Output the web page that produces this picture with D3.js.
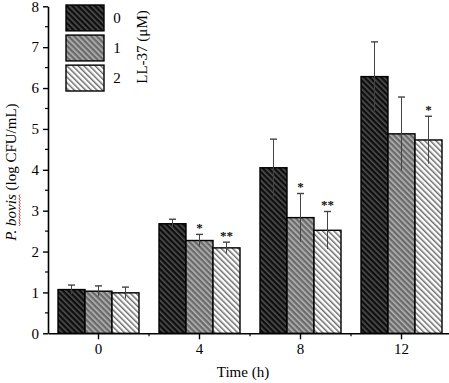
<!DOCTYPE html>
<html><head><meta charset="utf-8">
<script src="https://cdn.jsdelivr.net/npm/d3@7"></script>
<style>html,body{margin:0;padding:0;background:#fff;}svg{display:block;}</style>
</head><body>
<svg id="c" width="449" height="383"></svg>
<script>
const times = ["0","4","8","12"];
const doses = ["0","1","2"];
const mean0 = [1.07, 2.68, 4.05, 6.28];
const mean1 = [1.03, 2.27, 2.83, 4.88];
const mean2 = [0.99, 2.09, 2.52, 4.73];
const err0 = [0.11, 0.11, 0.70, 0.85];
const err1 = [0.13, 0.15, 0.59, 0.90];
const err2 = [0.14, 0.14, 0.46, 0.58];
const sig0 = ["", "", "", ""];
const sig1 = ["", "*", "*", ""];
const sig2 = ["", "**", "**", "*"];
const yTicks = [0,1,2,3,4,5,6,7,8];
const xLabel = "Time (h)";
const legendTitle = "LL-37 (\u03bcM)";

const means = [mean0, mean1, mean2];
const errs = [err0, err1, err2];
const sigs = [sig0, sig1, sig2];

const svg = d3.select("#c");
const font = "'Liberation Serif','Times New Roman',serif";

const x = d3.scaleBand().domain(times).range([48, 452]).padding(0);
const xs = d3.scaleBand().domain(doses).range([10, 91]).padding(0);
const y = d3.scaleLinear().domain([0, 8]).range([333.3, 6.3]);

// patterns
const defs = svg.append("defs");
const pats = [
  {id:"p0", bg:"#0e0e0e", fg:"#505050", w:1.6},
  {id:"p1", bg:"#6a6a6a", fg:"#b4b4b4", w:1.6},
  {id:"p2", bg:"#ffffff", fg:"#6e6e6e", w:1.5}
];
pats.forEach(p => {
  const pt = defs.append("pattern").attr("id", p.id).attr("patternUnits","userSpaceOnUse")
    .attr("width", 4).attr("height", 4).attr("patternTransform","rotate(-45)");
  pt.append("rect").attr("width",4).attr("height",4).attr("fill",p.bg);
  pt.append("rect").attr("x",0).attr("y",0).attr("width",p.w).attr("height",4).attr("fill",p.fg);
});

// bars
doses.forEach((d, si) => {
  const g = svg.append("g");
  times.forEach((t, ti) => {
    const v = means[si][ti];
    const bx = x(t) + xs(d);
    g.append("rect").attr("x", bx).attr("y", y(v))
      .attr("width", xs.bandwidth()).attr("height", y(0) - y(v))
      .attr("fill", `url(#${pats[si].id})`).attr("stroke", "#000").attr("stroke-width", 1.4);
  });
});

// error bars
doses.forEach((d, si) => {
  times.forEach((t, ti) => {
    const v = means[si][ti], e = errs[si][ti];
    const cx = x(t) + xs(d) + xs.bandwidth()/2;
    const g = svg.append("g").attr("stroke", "#444").attr("stroke-width", 1);
    g.append("line").attr("x1", cx).attr("x2", cx).attr("y1", y(v+e)).attr("y2", y(v-e));
    g.append("line").attr("x1", cx-3.5).attr("x2", cx+3.5).attr("y1", y(v+e)).attr("y2", y(v+e)).attr("stroke-width",1.4);
    if (sigs[si][ti]) {
      svg.append("text").attr("x", cx).attr("y", y(v+e) - 2.5)
        .attr("text-anchor","middle").attr("font-family", font).attr("font-weight","bold")
        .attr("font-size", 13).attr("fill","#111").text(sigs[si][ti]);
    }
  });
});

// y axis
const yAxis = d3.axisLeft(y).tickValues(yTicks).tickSize(5).tickSizeOuter(0).tickPadding(4).tickFormat(d3.format("d"));
const ya = svg.append("g").attr("transform","translate(48,0)").call(yAxis);
ya.select(".domain").attr("stroke-width", 1.6);
ya.selectAll(".tick line").attr("stroke-width", 1.4);
ya.selectAll("text").attr("font-family", font).attr("font-size", 15).attr("fill","#000");
const yMinor = d3.range(0.5, 8, 1);
ya.selectAll(".minor").data(yMinor).enter().append("line").attr("class","minor")
  .attr("x1", 0).attr("x2", -3).attr("y1", d=>y(d)).attr("y2", d=>y(d)).attr("stroke","#000").attr("stroke-width",1.2);

// x axis
const xAxis = d3.axisBottom(x).tickSize(6).tickSizeOuter(0).tickPadding(4);
const xa = svg.append("g").attr("transform", `translate(0,${y(0)})`).call(xAxis);
xa.select(".domain").attr("stroke-width", 1.6);
xa.selectAll(".tick line").attr("stroke-width", 1.4);
xa.selectAll("text").attr("font-family", font).attr("font-size", 15).attr("fill","#000");
xa.selectAll(".minor").data(times.slice(1)).enter().append("line").attr("class","minor")
  .attr("x1", d=>x(d)).attr("x2", d=>x(d)).attr("y1", 0).attr("y2", 3).attr("stroke","#000").attr("stroke-width",1.2);

// axis titles
svg.append("text").attr("x", 243).attr("y", 377).attr("text-anchor","middle")
  .attr("font-family", font).attr("font-size", 15).attr("fill","#000").text(xLabel);

const yl = svg.append("text").attr("transform","translate(16,172) rotate(-90)").attr("text-anchor","middle")
  .attr("font-family", font).attr("font-size", 15).attr("fill","#000");
yl.append("tspan").attr("font-style","italic").text("P. ");
yl.append("tspan").attr("font-style","italic").attr("id","bov").text("bovis");
yl.append("tspan").text("  (log CFU/mL)");

// spell-check wavy underline under "bovis"
const bb = document.getElementById("bov");
const n = bb.getNumberOfChars();
const s0 = bb.getStartPositionOfChar(0), s1 = bb.getEndPositionOfChar(n-1);
// positions are in text's local coords (rotated), draw in same transform
const wv = [];
for (let px = s0.x; px <= s1.x; px += 1.5) wv.push([px, 3 + ((Math.round((px - s0.x)/1.5)) % 2 ? 1.2 : 0)]);
svg.append("path").attr("transform","translate(16,172) rotate(-90)")
  .attr("d", d3.line()(wv)).attr("fill","none").attr("stroke","#e02020").attr("stroke-width",0.9);

// legend
const lg = svg.append("g");
const ly = d3.scaleBand().domain(doses).range([5, 91]).paddingInner(0.14);
doses.forEach((d, i) => {
  lg.append("rect").attr("x", 66).attr("y", ly(d)).attr("width", 38).attr("height", ly.bandwidth())
    .attr("fill", `url(#${pats[i].id})`).attr("stroke","#000").attr("stroke-width",1.4);
  lg.append("text").attr("x", 117).attr("y", ly(d) + ly.bandwidth()/2 + 5).attr("text-anchor","middle")
    .attr("font-family", font).attr("font-size", 15).attr("fill","#000").text(d);
});
lg.append("text").attr("transform","translate(147,47) rotate(-90)").attr("text-anchor","middle")
  .attr("font-family", font).attr("font-size", 15).attr("fill","#000").text(legendTitle);
</script>
</body></html>
